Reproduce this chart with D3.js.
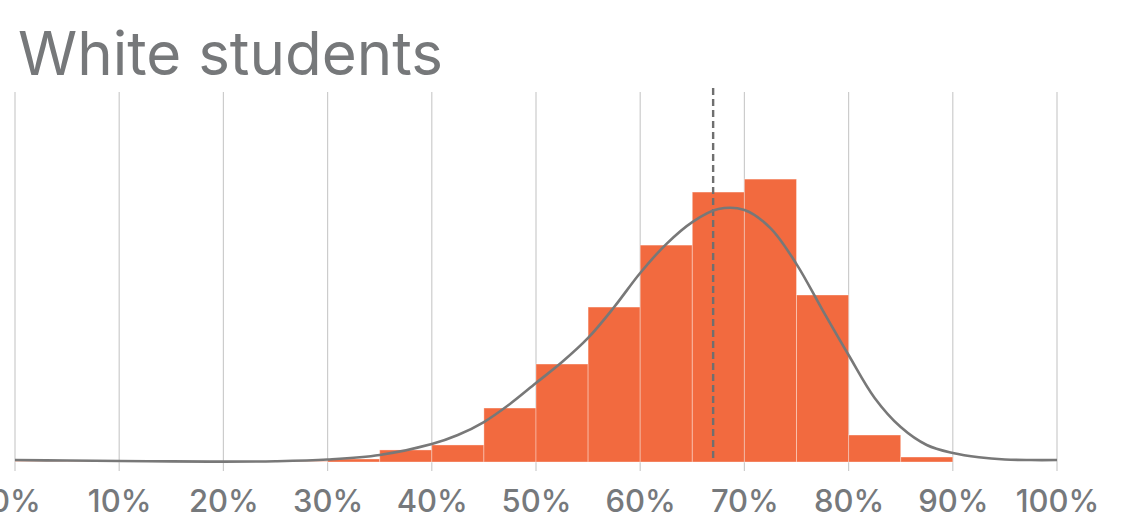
<!DOCTYPE html>
<html>
<head>
<meta charset="utf-8">
<script src="https://cdn.jsdelivr.net/npm/d3@7"></script>
<style>
  html, body { margin: 0; padding: 0; background: #fff; }
  svg { display: block; }
</style>
</head>
<body>
<svg id="chart" width="1142" height="527"></svg>
<script>
const title = "White students";
const binStarts = [0,5,10,15,20,25,30,35,40,45,50,55,60,65,70,75,80,85];
const binWidth = 5;
const binValues = [0.03,0.03,0.03,0.03,0.03,0.03,0.23,0.92,1.30,4.12,7.48,11.83,16.56,20.61,21.60,12.75,2.06,0.38];
const curveX = [0,5,10,15,20,25,30,35,40,42.5,45,47.5,50,52.5,55,57.5,60,62.5,65,67.5,70,72.5,75,77.5,80,82.5,85,87.5,90,92.5,95,97.5,100];
const curveY = [0.15,0.11,0.08,0.05,0.03,0.06,0.19,0.53,1.37,2.06,3.05,4.43,6.03,7.63,9.47,11.83,14.43,16.64,18.32,19.31,19.24,17.86,15.11,11.60,8.17,4.89,2.67,1.30,0.69,0.36,0.19,0.15,0.15];
const tickValues = [0,10,20,30,40,50,60,70,80,90,100];
const tickLabels = ["0%","10%","20%","30%","40%","50%","60%","70%","80%","90%","100%"];
const meanValue = 67.0;

const svg = d3.select("#chart");
const x = d3.scaleLinear().domain([0,100]).range([15,1057]);
const y = d3.scaleLinear().domain([0,28.25]).range([462,92]);

const t = svg.append("text")
  .attr("x", 18).attr("y", 75)
  .attr("font-family", "Inter, Roboto, sans-serif")
  .attr("font-size", 61)
  .attr("fill", "#76787a")
  .text(title);
const tw = t.node().getComputedTextLength();
if (Math.abs(tw - 425) > 2) t.attr("textLength", 425).attr("lengthAdjust", "spacingAndGlyphs");

// gridlines
svg.append("g").selectAll("line").data(tickValues).join("line")
  .attr("x1", d => x(d)).attr("x2", d => x(d))
  .attr("y1", 92).attr("y2", 471)
  .attr("stroke", "#cccccc").attr("stroke-width", 1.2);

// bars
svg.append("g").selectAll("rect").data(binStarts).join("rect")
  .attr("x", d => x(d))
  .attr("width", x(binWidth) - x(0))
  .attr("y", (d,i) => y(binValues[i]))
  .attr("height", (d,i) => y(0) - y(binValues[i]))
  .attr("fill", "#f26a3f")
  .attr("stroke", "rgba(255,255,255,0.35)")
  .attr("stroke-width", 1);

// dashed mean line
svg.append("line")
  .attr("x1", x(meanValue)).attr("x2", x(meanValue))
  .attr("y1", 88).attr("y2", 462)
  .attr("stroke", "#6f6f6f").attr("stroke-width", 2.4)
  .attr("stroke-dasharray", "7,4");

// curve
const line = d3.line().x((d,i) => x(curveX[i])).y(d => y(d)).curve(d3.curveCatmullRom.alpha(0.5));
svg.append("path").datum(curveY)
  .attr("d", line)
  .attr("fill", "none")
  .attr("stroke", "#787878").attr("stroke-width", 2.6);

// axis labels
const axis = d3.axisBottom(x).tickValues(tickValues).tickFormat((d,i) => tickLabels[i]).tickSize(0).tickPadding(0);
const gAxis = svg.append("g").attr("transform", "translate(0,490)").call(axis);
gAxis.select(".domain").remove();
gAxis.selectAll("text")
  .attr("font-family", "Inter, Roboto, sans-serif")
  .attr("font-size", 31)
  .attr("font-weight", 500)
  .attr("fill", "#76797c")
  .attr("dy", "0.71em");
</script>
</body>
</html>
